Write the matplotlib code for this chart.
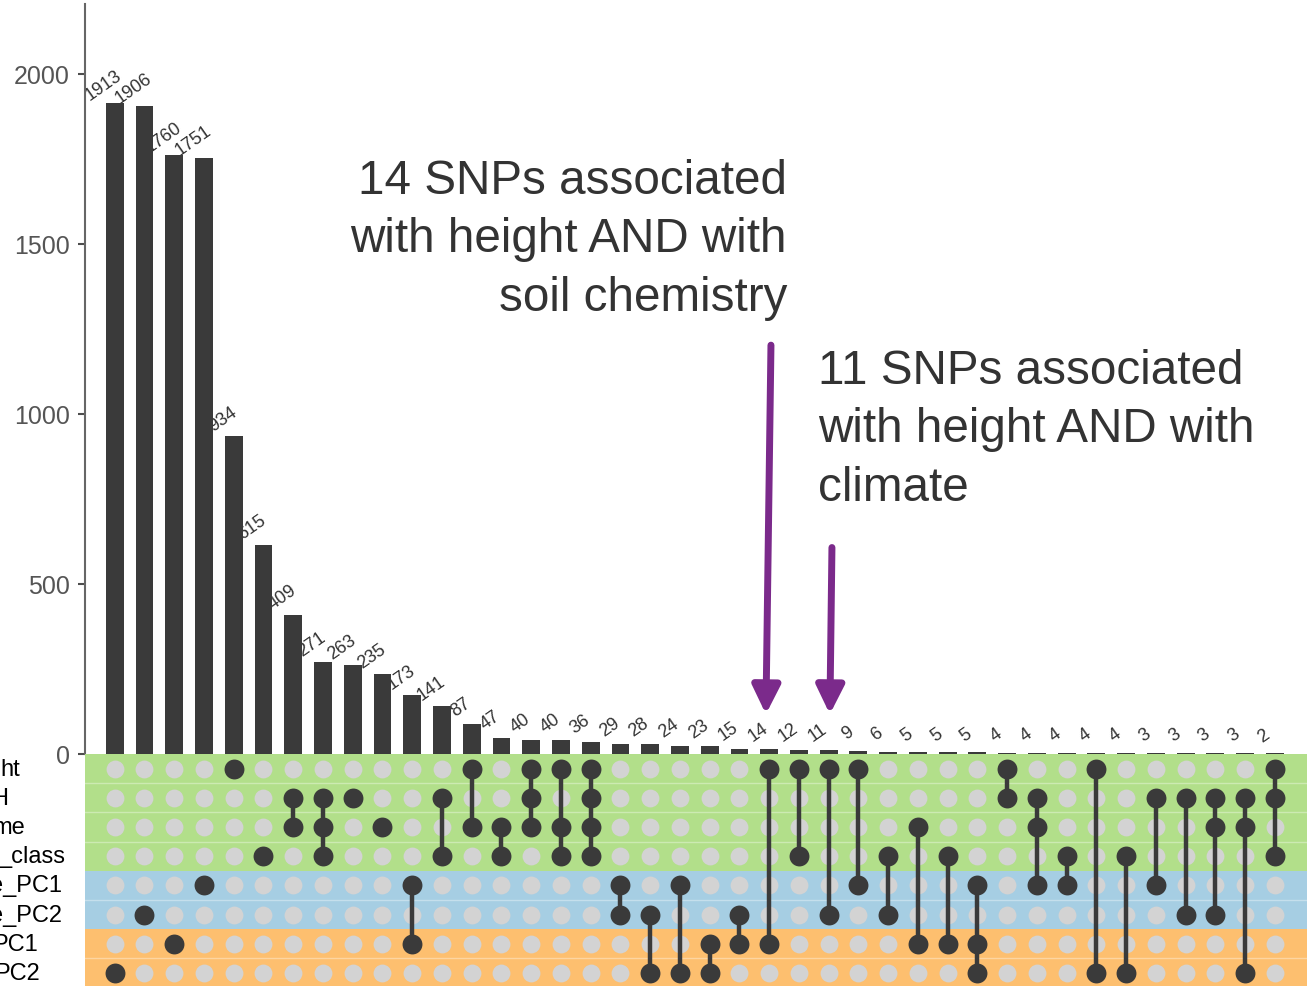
import numpy as np
import matplotlib
matplotlib.use("Agg")
import matplotlib.pyplot as plt
import matplotlib.transforms as mtrans

plt.rcParams['font.family'] = ['Liberation Sans', 'DejaVu Sans']

# set names (left part is cut off in the original picture)
set_names = ["ht", "H", "me", "_class", "e_PC1", "e_PC2", "PC1", "PC2"]
# intersection sizes, in the order shown
counts = [1913, 1906, 1760, 1751, 934, 615, 409, 271, 263, 235, 173, 141, 87,
          47, 40, 40, 36, 29, 28, 24, 23, 15, 14, 12, 11, 9, 6, 5, 5, 5,
          4, 4, 4, 4, 4, 3, 3, 3, 3, 2]
# rows (sets) that take part in each intersection, 0 = top row
members = [[7], [5], [6], [4], [0], [3], [1, 2], [1, 2, 3], [1], [2],
           [4, 6], [1, 3], [0, 2], [2, 3], [0, 1, 2], [0, 2, 3], [0, 1, 2, 3],
           [4, 5], [5, 7], [4, 7], [6, 7], [5, 6], [0, 6], [0, 3], [0, 5],
           [0, 4], [3, 5], [2, 6], [3, 6], [4, 6, 7], [0, 1], [1, 2, 4],
           [3, 4], [0, 7], [3, 7], [1, 4], [1, 5], [1, 2, 5], [1, 2, 7],
           [0, 1, 3]]
# row groups: (first row, last row, colour)
groups = [(0, 3, "#b2df8a"), (4, 5, "#a6cee3"), (6, 7, "#fdbf6f")]

note1 = "14 SNPs associated\nwith height AND with\nsoil chemistry"
note2 = "11 SNPs associated\nwith height AND with\nclimate"
note1_col, note2_col = 22, 24

dark = "#3a3a3a"
purple = "#7b2a8b"

W, H = 1307, 987
fig = plt.figure(figsize=(W / 100, H / 100), dpi=100)
ax = fig.add_axes([85 / W, (H - 755) / H, 1 - 85 / W, 750 / H])
axm = fig.add_axes([85 / W, (H - 988.6) / H, 1 - 85 / W, 233.6 / H])

x = np.arange(len(counts))
xlim = (-1.0, len(counts) + 0.08)

# bars
ax.bar(x, counts, width=0.6, color=dark, zorder=2)
ax.set_xlim(*xlim)
ax.set_ylim(0, 2205)
ax.patch.set_alpha(0)
for s in ["top", "right", "bottom"]:
    ax.spines[s].set_visible(False)
ax.spines["left"].set_color("#666666")
ax.spines["left"].set_linewidth(1.5)
ax.set_xticks([])
ax.set_yticks([0, 500, 1000, 1500, 2000])
ax.tick_params(axis="y", labelsize=18, labelcolor="#555555", color="#4d4d4d",
               length=5, width=1.5, pad=6)

for i, v in enumerate(counts):
    ax.annotate(str(v), (i, v), xytext=(-8, 13), textcoords="offset points",
                rotation=35, rotation_mode="anchor", ha="center", va="center",
                fontsize=13, color="#333333", zorder=1)

# arrows + notes
ax.annotate("", xy=(note1_col - 0.11, 117), xytext=(note1_col + 0.06, 1202),
            arrowprops=dict(arrowstyle="-|>,head_length=0.85,head_width=0.42",
                            color=purple, lw=5, mutation_scale=20,
                            shrinkA=0, shrinkB=0))
ax.annotate("", xy=(note2_col + 0.04, 117), xytext=(note2_col + 0.11, 607),
            arrowprops=dict(arrowstyle="-|>,head_length=0.85,head_width=0.42",
                            color=purple, lw=5, mutation_scale=20,
                            shrinkA=0, shrinkB=0))
ax.text(22.6, 1753, note1, ha="right", va="top", fontsize=34.3,
        color="#333333", linespacing=1.39)
ax.text(23.64, 1195, note2, ha="left", va="top", fontsize=34.3,
        color="#333333", linespacing=1.39)

# matrix
axm.set_xlim(*xlim)
axm.set_ylim(len(set_names) - 0.5, -0.5)
axm.axis("off")
for r0, r1, c in groups:
    axm.axhspan(r0 - 0.5, r1 + 0.5, color=c, lw=0, zorder=0)
    for r in range(r0, r1):
        axm.axhline(r + 0.5, color="white", alpha=0.35, lw=1, zorder=1)

gx, gy = np.meshgrid(x, np.arange(len(set_names)))
axm.scatter(gx.ravel(), gy.ravel(), s=165, color="#d3d3d3", lw=0, zorder=2)
for i, rows in enumerate(members):
    if len(rows) > 1:
        axm.plot([i, i], [min(rows), max(rows)], color=dark, lw=3.2, zorder=3)
    axm.scatter([i] * len(rows), rows, s=205, color=dark, lw=0, zorder=4)

# row labels, right ends as in the cropped original
label_ends = [20, 8, 25, 65, 62, 62, 38, 40]
tr = mtrans.blended_transform_factory(fig.transFigure, axm.transData)
for r, (name, xe) in enumerate(zip(set_names, label_ends)):
    fig.text(xe / W, r, name, transform=tr, ha="right", va="center",
             fontsize=17, color="black")

fig.savefig("out.png", dpi=100)
